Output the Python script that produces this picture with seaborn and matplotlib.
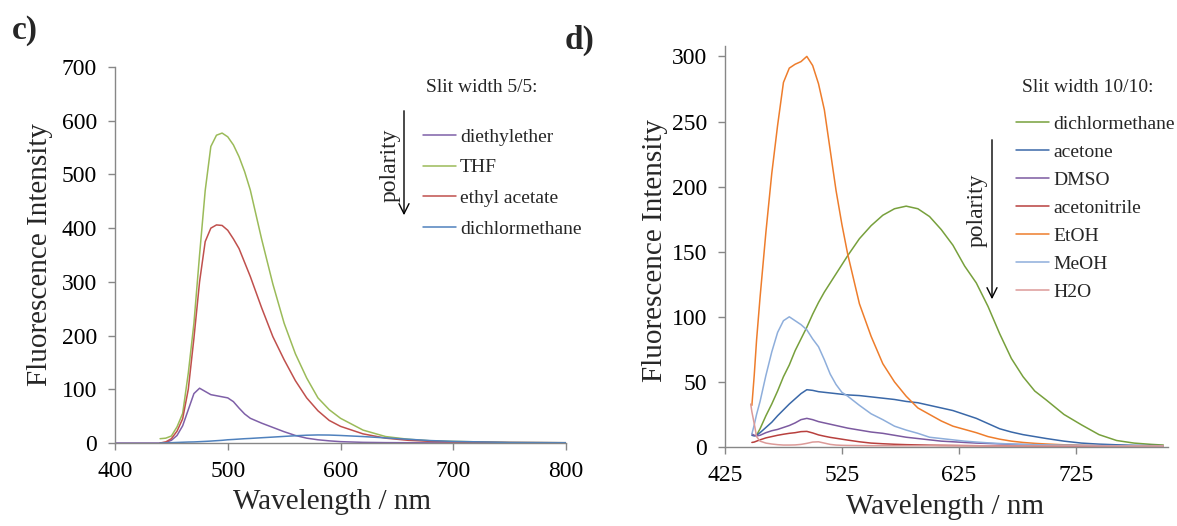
import numpy as np
import pandas as pd
import matplotlib
matplotlib.use("Agg")
import matplotlib.pyplot as plt
import seaborn as sns

# ---------------- data: panel c ----------------
wl_c = [400, 440, 445, 450, 455, 460, 465, 470, 475, 480, 485, 490, 495, 500, 505,
        510, 515, 520, 530, 540, 550, 560, 570, 580, 590, 600, 620, 640, 660, 680,
        700, 750, 800]
diethylether_c = [0, 0, 1, 5, 14, 32, 62, 92, 102, 96, 90, 88, 86, 84, 77,
                  65, 54, 46, 37, 29, 21, 14, 9, 6, 4, 2.5, 1.2, 0.7, 0.5, 0.3,
                  0.2, 0.1, 0]
thf_c = [np.nan, 8, 9, 13, 30, 55, 130, 223, 350, 470, 552, 573, 577, 570, 555,
         533, 505, 471, 380, 296, 223, 166, 121, 84, 62, 46, 24, 12, 7, 4,
         3, 1, 0.5]
ethylacetate_c = [np.nan, 0, 2, 8, 22, 45, 100, 195, 300, 375, 400, 406, 405, 396, 380,
                  362, 336, 310, 252, 198, 155, 116, 84, 60, 42, 31, 17, 9, 5, 3,
                  2, 1, 0.5]
dcm_c = [np.nan, 0, 0.3, 0.6, 1, 1.4, 1.8, 2, 2.5, 3, 3.6, 4.3, 5, 6, 6.6,
         7.3, 8, 8.5, 9.8, 11, 12.3, 13.5, 14.5, 15, 14.8, 14, 12, 9.5, 7, 4.5,
         3, 1, 0.5]
names_c = ["diethylether", "THF", "ethyl acetate", "dichlormethane"]
colors_c = ["#7F60A8", "#9BBB59", "#C0504D", "#4F81BD"]

# ---------------- data: panel d ----------------
wl_d = [447, 448, 450, 452, 455, 460, 465, 470, 475, 480, 485, 490, 495, 500, 505,
        510, 515, 520, 525, 530, 540, 550, 560, 570, 580, 590, 600, 610, 620, 630,
        640, 650, 660, 670, 680, 690, 700, 715, 730, 745, 760, 775, 790, 800]
dcm_d = [np.nan, np.nan, np.nan, 9, 14, 24, 33, 43, 54, 63, 74, 83, 92, 102, 111,
         119, 126, 133, 140, 147, 160, 170, 178, 183, 185, 183, 177, 167, 155, 139,
         126, 108, 87, 68, 54, 43, 36, 25, 17, 9.5, 5, 3, 2, 1.5]
acetone_d = [np.nan, 9, 8.5, 9, 11, 15, 19, 24, 28.5, 33, 37, 41, 44, 43.5, 42.5,
             42, 41.5, 41, 40.5, 40, 39.5, 38.5, 37.5, 36.5, 35, 34, 32, 30, 28, 25,
             22, 18, 14, 11.5, 9.5, 8, 6.5, 4.5, 3, 2.2, 1.7, 1.3, 1.1, 1]
dmso_d = [np.nan, 10, 9, 8.5, 9, 11, 12.5, 13.5, 15, 16.5, 18.5, 21, 22, 21, 19.5,
          18.5, 17.5, 16.5, 15.5, 14.5, 13, 11.5, 10.5, 9, 7.5, 6.5, 5.5, 4.5, 4, 3.5,
          3, 2.7, 2.4, 2.1, 1.9, 1.7, 1.5, 1.3, 1.1, 1, 0.9, 0.8, 0.7, 0.7]
acetonitrile_d = [np.nan, 3.5, 3.8, 4.5, 5.5, 7, 8, 9, 9.8, 10.5, 11, 11.8, 12, 10.8, 9.3,
                  8.3, 7.4, 6.7, 6, 5.3, 4, 3, 2.5, 2.1, 1.8, 1.6, 1.4, 1.3, 1.2, 1.1,
                  1, 0.9, 0.9, 0.8, 0.8, 0.7, 0.7, 0.7, 0.6, 0.6, 0.6, 0.6, 0.6, 0.6]
etoh_d = [np.nan, 32, 55, 82, 115, 165, 210, 247, 280, 291, 294, 296, 300, 293, 279,
          259, 228, 197, 171, 148, 110, 85, 64, 50, 39, 30, 25, 20, 16, 13.5,
          11, 8, 6, 4.5, 3.5, 2.8, 2.3, 1.7, 1.3, 1, 0.8, 0.7, 0.6, 0.5]
meoh_d = [np.nan, 10, 17, 25, 35, 55, 73, 88, 97, 100, 97, 94, 90, 83, 77,
          67, 56, 48, 42, 39, 32, 25.5, 21, 16, 13, 10.5, 7.5, 6.5, 5.5, 4.5,
          3.8, 3.2, 2.7, 2.3, 2, 1.8, 1.6, 1.4, 1.2, 1.1, 1, 0.9, 0.9, 0.8]
h2o_d = [33, 27, 18, 8, 4.5, 3, 2.3, 1.8, 1.5, 1.5, 1.6, 2, 2.8, 3.8, 4,
         3, 2, 1.5, 1.3, 1.2, 1.1, 1, 1, 1, 1, 1, 1, 0.9, 0.9, 0.9,
         0.9, 0.9, 0.8, 0.8, 0.8, 0.8, 0.8, 0.8, 0.8, 0.8, 0.8, 0.8, 0.8, 0.8]
names_d = ["dichlormethane", "acetone", "DMSO", "acetonitrile", "EtOH", "MeOH", "H2O"]
colors_d = ["#77A03C", "#3A68A8", "#7C5AA0", "#B8403E", "#EE7D2C", "#8EAEDB", "#DC9A98"]

# ---------------- figure ----------------
W, H = 1177, 526
sns.set_theme(style="white")
plt.rcParams["font.family"] = ["Liberation Serif", "DejaVu Serif"]
plt.rcParams["axes.unicode_minus"] = False

fig = plt.figure(figsize=(W / 100, H / 100), dpi=100)


def fx(px):
    return px / W


def fy(py):
    return 1 - py / H


def long_df(wl, series, names):
    parts = []
    for name, vals in zip(names, series):
        parts.append(pd.DataFrame({"wl": wl, "val": vals, "solvent": name}))
    return pd.concat(parts, ignore_index=True).dropna()


ax_c = fig.add_axes([fx(115), fy(443), fx(566) - fx(115), fy(67) - fy(443)])
ax_d = fig.add_axes([fx(725), fy(447), fx(1168) - fx(725), fy(46) - fy(447)])

df_c = long_df(wl_c, [diethylether_c, thf_c, ethylacetate_c, dcm_c], names_c)
df_d = long_df(wl_d, [dcm_d, acetone_d, dmso_d, acetonitrile_d, etoh_d, meoh_d, h2o_d], names_d)

sns.lineplot(data=df_c, x="wl", y="val", hue="solvent", hue_order=names_c,
             palette=dict(zip(names_c, colors_c)), estimator=None, linewidth=1.1,
             ax=ax_c)
sns.lineplot(data=df_d, x="wl", y="val", hue="solvent", hue_order=names_d,
             palette=dict(zip(names_d, colors_d)), estimator=None, linewidth=1.1,
             ax=ax_d)

grey = "#878787"
tick_fs = 17
label_fs = 21
leg_fs = 14

for ax in (ax_c, ax_d):
    for s in ("top", "right"):
        ax.spines[s].set_visible(False)
    for s in ("left", "bottom"):
        ax.spines[s].set_color(grey)
        ax.spines[s].set_linewidth(1.0)
    ax.tick_params(axis="both", direction="out", length=5, width=1, color=grey,
                   labelsize=tick_fs, labelcolor="black", pad=8,
                   left=True, bottom=True)
    ax.grid(False)
    ax.set_facecolor("white")

ax_c.set_xlim(400, 800)
ax_c.set_ylim(0, 700)
ax_c.set_xticks([400, 500, 600, 700, 800])
ax_c.set_yticks(list(range(0, 701, 100)))

ax_d.set_xlim(425, 804)
ax_d.set_ylim(0, 308)
ax_d.set_xticks([425, 525, 625, 725])
ax_d.set_yticks(list(range(0, 301, 50)))

ax_c.set_xlabel("Wavelength / nm", fontsize=label_fs, va="center")
ax_c.set_ylabel("Fluorescence Intensity", fontsize=label_fs, va="center")
ax_c.xaxis.set_label_coords(0.481, -0.157)
ax_c.yaxis.set_label_coords((40 - 115) / 451, 0.5)

ax_d.set_xlabel("Wavelength / nm", fontsize=label_fs, va="center")
ax_d.set_ylabel("Fluorescence Intensity", fontsize=label_fs, va="center")
ax_d.xaxis.set_label_coords(0.497, -0.15)
ax_d.yaxis.set_label_coords((655 - 725) / 443, 0.49)

# legends
for ax, anchor, ls in ((ax_c, (423, 128), 0.68), (ax_d, (1016, 115), 0.54)):
    handles, labels = ax.get_legend_handles_labels()
    ax.legend(handles, labels, loc="upper left",
              bbox_to_anchor=(fx(anchor[0]), fy(anchor[1])),
              bbox_transform=fig.transFigure, frameon=False, fontsize=leg_fs,
              handlelength=1.7, handletextpad=0.2, labelspacing=ls,
              borderpad=0, borderaxespad=0)

fig.text(fx(426), fy(88), "Slit width 5/5:", fontsize=leg_fs, ha="left", va="center")
fig.text(fx(1022), fy(88), "Slit width 10/10:", fontsize=leg_fs, ha="left", va="center")

# polarity arrows
for xa, y0, y1, xt, yt in ((404, 108, 218, 390, 165), (992, 137, 302, 977, 210)):
    fig.add_artist(matplotlib.patches.FancyArrowPatch(
        (fx(xa), fy(y0)), (fx(xa), fy(y1)), transform=fig.transFigure,
        arrowstyle="->", mutation_scale=18, color="black", lw=1.0))
    fig.text(fx(xt), fy(yt), "polarity", rotation=90, fontsize=17,
             ha="center", va="center")

# panel labels
fig.text(fx(12), fy(30), "c)", fontsize=24, fontweight="bold", ha="left", va="center")
fig.text(fx(565), fy(40), "d)", fontsize=24, fontweight="bold", ha="left", va="center")

fig.savefig("out.png", dpi=100, facecolor="white")
